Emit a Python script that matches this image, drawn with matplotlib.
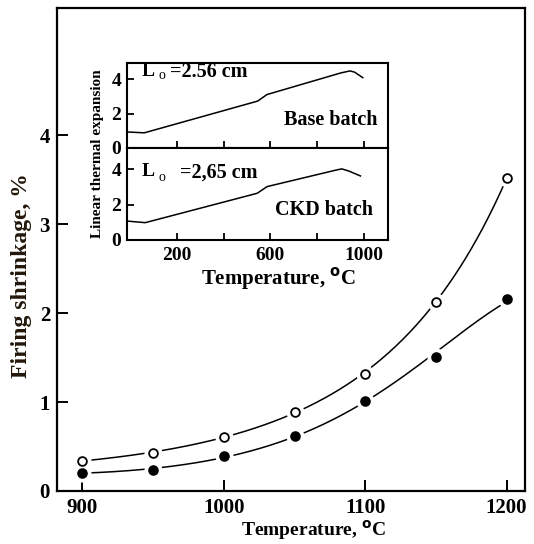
import numpy as np
import matplotlib
matplotlib.use("Agg")
import matplotlib.pyplot as plt

plt.rcParams['font.family'] = ['Liberation Serif', 'DejaVu Serif']
plt.rcParams['font.weight'] = 'bold'

# ---------------- data ----------------
temps = [900, 950, 1000, 1050, 1100, 1150, 1200]
base_shrink = [0.34, 0.43, 0.61, 0.89, 1.32, 2.13, 3.52]   # open circles
ckd_shrink = [0.205, 0.24, 0.39, 0.62, 1.01, 1.51, 2.16]   # filled circles

inset_base_T = [-14, 60, 545, 585, 900, 940, 960, 995]
inset_base_v = [0.93, 0.88, 2.72, 3.10, 4.35, 4.47, 4.40, 4.08]
inset_ckd_T = [-14, 64, 543, 586, 880, 905, 935, 985]
inset_ckd_v = [1.07, 0.98, 2.64, 3.02, 3.95, 4.02, 3.90, 3.62]

main_xticks = [900, 1000, 1100, 1200]
main_yticks = [0, 1, 2, 3, 4]
inset_xticks = [200, 400, 600, 800, 1000]
inset_xticklabels = ['200', '', '600', '', '1000']
inset_yticks = [0, 2, 4]

W, H = 534, 544
fig = plt.figure(figsize=(W / 100, H / 100), dpi=100)


def box(l, t, r, b):
    return [l / W, 1 - b / H, (r - l) / W, (b - t) / H]


# ---------------- main axes ----------------
ax = fig.add_axes(box(57, 8, 525, 491))
ax.set_xlim(882, 1213)
ax.set_ylim(0, 5.43)
for s in ax.spines.values():
    s.set_linewidth(1.6)
ax.tick_params(direction='in', length=8, width=1.4, labelsize=15, pad=5)
ax.set_xticks(main_xticks)
ax.set_yticks(main_yticks)
for lab in ax.get_xticklabels() + ax.get_yticklabels():
    lab.set_fontweight('bold')


def smooth(x, y, n=300):
    x = np.asarray(x, float)
    y = np.asarray(y, float)
    c = np.polyfit(x - 1050, np.log(y), 3)
    xs = np.linspace(x[0], x[-1], n)
    return xs, np.exp(np.polyval(c, xs - 1050))


for vals, fc in [(base_shrink, 'white'), (ckd_shrink, 'black')]:
    xs, ys = smooth(temps, vals)
    ax.plot(xs, ys, color='black', lw=1.1, zorder=2)
    ax.plot(temps, vals, 'o', ms=12, mfc='white', mec='white', zorder=3)
    ax.plot(temps, vals, 'o', ms=6.3, mfc=fc, mec='black', mew=1.3, zorder=4)

fig.text(313 / W, 1 - 530 / H, 'Temperature, $^{\\rm o}$C',
         ha='center', va='center', fontsize=14, fontweight='bold')
fig.text(22 / W, 1 - 276 / H, 'Firing shrinkage, %', rotation=90,
         ha='center', va='center', fontsize=17, fontweight='bold', color='#22170a')

# ---------------- inset ----------------
axt = fig.add_axes(box(127, 63, 388, 148))
axb = fig.add_axes(box(127, 148, 388, 240))
axt.set_ylim(0, 4.93)
axb.set_ylim(0, 5.2)
for a, T, v in [(axt, inset_base_T, inset_base_v), (axb, inset_ckd_T, inset_ckd_v)]:
    a.set_xlim(-14, 1103)
    a.plot(T, v, color='black', lw=1.1)
    for s in a.spines.values():
        s.set_linewidth(1.5)
    a.set_xticks(inset_xticks)
    a.set_yticks(inset_yticks)
    a.tick_params(direction='in', length=5, width=1.3, labelsize=14, pad=4)
    for lab in a.get_yticklabels() + a.get_xticklabels():
        lab.set_fontweight('bold')
axt.set_xticklabels([])
axb.set_xticklabels(inset_xticklabels)
axb.tick_params(axis='x', pad=5)

fig.text(142 / W, 1 - 72 / H, 'L', fontsize=14, fontweight='bold', va='center', ha='left')
fig.text(162 / W, 1 - 75 / H, 'o', fontsize=10, fontweight='normal', va='center', ha='center')
fig.text(170 / W, 1 - 72 / H, '=2.56 cm', fontsize=14.5, fontweight='bold', va='center', ha='left')
fig.text(331 / W, 1 - 120 / H, 'Base batch', fontsize=14.5, fontweight='bold', va='center', ha='center')

fig.text(142 / W, 1 - 172 / H, 'L', fontsize=14, fontweight='bold', va='center', ha='left')
fig.text(162 / W, 1 - 177 / H, 'o', fontsize=10, fontweight='normal', va='center', ha='center')
fig.text(180 / W, 1 - 173 / H, '=2,65 cm', fontsize=14.5, fontweight='bold', va='center', ha='left')
fig.text(324 / W, 1 - 210 / H, 'CKD batch', fontsize=14.5, fontweight='bold', va='center', ha='center')

fig.text(97 / W, 1 - 154 / H, 'Linear thermal expansion', rotation=90, fontsize=11,
         fontweight='bold', va='center', ha='center')
fig.text(278 / W, 1 - 279 / H, 'Temperature, $^{\\rm o}$C', fontsize=15,
         fontweight='bold', va='center', ha='center')

fig.savefig('out.png', dpi=100)
